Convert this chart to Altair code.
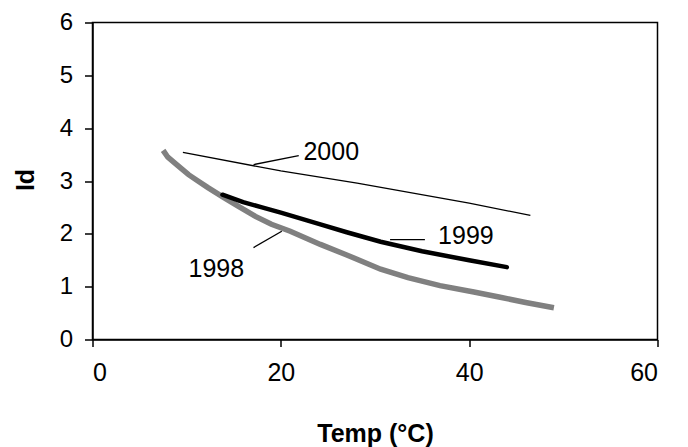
import altair as alt
import pandas as pd

# Series data (Temp °C, Id)
t1998 = [7.5, 8.0, 9.0, 10.2, 11.2, 12.3, 14.0, 15.5, 17.3, 19.0, 21.0, 24.2, 27.0, 30.6, 33.5, 36.9, 40.5, 43.3, 46.0, 49.0]
id1998 = [3.58, 3.45, 3.30, 3.12, 3.00, 2.87, 2.68, 2.52, 2.33, 2.18, 2.05, 1.80, 1.60, 1.33, 1.17, 1.02, 0.90, 0.80, 0.70, 0.60]

t1999 = [13.8, 16.0, 18.0, 20.0, 24.2, 27.0, 30.6, 35.0, 40.0, 44.0]
id1999 = [2.74, 2.60, 2.50, 2.40, 2.18, 2.03, 1.85, 1.67, 1.50, 1.37]

t2000 = [9.6, 20.0, 28.1, 40.0, 46.5]
id2000 = [3.54, 3.19, 2.96, 2.58, 2.35]

labels = ["2000", "1999", "1998"]
label_x = [22.4, 36.7, 10.2]
label_y = [3.40, 1.80, 1.18]

lead_x = [17.1, 31.6, 17.1]
lead_y = [3.31, 1.89, 1.74]
lead_x2 = [21.9, 35.3, 20.1]
lead_y2 = [3.48, 1.89, 2.05]

x_ticks = [0, 20, 40, 60]
y_ticks = [0, 1, 2, 3, 4, 5, 6]

FONT = "Liberation Sans"
FS = 25

xs = alt.Scale(domain=[0, 60], nice=False, zero=False)
ys = alt.Scale(domain=[0, 6], nice=False)

xaxis = alt.Axis(values=x_ticks, title="Temp (°C)", grid=False, tickSize=7,
                 labelPadding=14, labelFontSize=FS, labelFont=FONT, labelColor="black",
                 titleFont=FONT, titleFontSize=FS, titleFontWeight="bold", titleColor="black",
                 titleBaseline="alphabetic", titleY=102,
                 domainColor="black", tickColor="black", domainWidth=1.5, tickWidth=1.5)
yaxis = alt.Axis(values=y_ticks, title="Id", grid=False, tickSize=8,
                 labelPadding=12, labelFontSize=24, labelFont=FONT, labelColor="black",
                 titleFont=FONT, titleFontSize=FS, titleFontWeight="bold", titleColor="black",
                 titleBaseline="middle", titleX=-67, titleY=157, titleAngle=-90,
                 domainColor="black", tickColor="black", domainWidth=1.5, tickWidth=1.5)

df98 = pd.DataFrame({"t": t1998, "v": id1998})
df99 = pd.DataFrame({"t": t1999, "v": id1999})
df00 = pd.DataFrame({"t": t2000, "v": id2000})
dlab = pd.DataFrame({"x": label_x, "y": label_y, "label": labels})
dlead = pd.DataFrame({"x": lead_x, "y": lead_y, "x2": lead_x2, "y2": lead_y2})

l98 = alt.Chart(df98).mark_line(color="#808080", strokeWidth=5.5).encode(
    x=alt.X("t:Q", scale=xs, axis=xaxis), y=alt.Y("v:Q", scale=ys, axis=yaxis))
l99 = alt.Chart(df99).mark_line(color="black", strokeWidth=4.5, strokeCap="round").encode(
    x=alt.X("t:Q", scale=xs), y=alt.Y("v:Q", scale=ys))
l00 = alt.Chart(df00).mark_line(color="black", strokeWidth=1.3).encode(
    x=alt.X("t:Q", scale=xs), y=alt.Y("v:Q", scale=ys))
leads = alt.Chart(dlead).mark_rule(color="black", strokeWidth=1.3).encode(
    x=alt.X("x:Q", scale=xs), y=alt.Y("y:Q", scale=ys), x2="x2:Q", y2="y2:Q")
texts = alt.Chart(dlab).mark_text(align="left", baseline="alphabetic", font=FONT,
                                  fontSize=FS, color="black").encode(
    x=alt.X("x:Q", scale=xs), y=alt.Y("y:Q", scale=ys), text="label:N")

chart = alt.layer(l98, l99, l00, leads, texts).properties(
    width=565, height=317,
    autosize=alt.AutoSizeParams(type="none"),
    padding={"left": 84.5, "top": 14.5, "right": 15, "bottom": 107},
    background="white",
).configure_view(stroke="black", strokeWidth=1.5)

chart.save("out.html", embed_options={"renderer": "svg", "actions": False})
